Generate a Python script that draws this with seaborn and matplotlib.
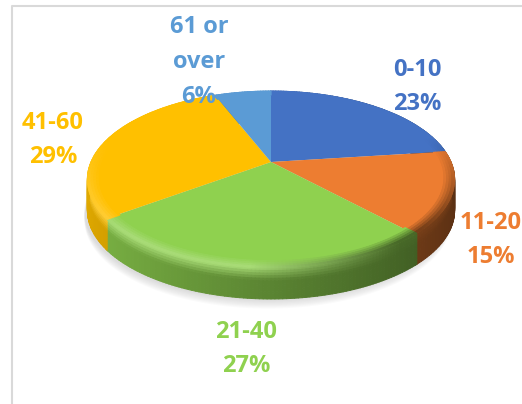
import numpy as np
import matplotlib
matplotlib.use("Agg")
import matplotlib.pyplot as plt
import matplotlib.transforms as mtransforms
from matplotlib.collections import PolyCollection
from matplotlib.path import Path
import seaborn as sns

# chart data
age_groups = ["0-10", "11-20", "21-40", "41-60", "61 or\nover"]
shares = [23, 15, 27, 29, 6]
slice_colors = ["#4472C4", "#ED7D31", "#8FD14F", "#FFC000", "#5B9BD5"]
label_x = [417, 491, 246, 53, 199]
label_y = [87, 240, 349, 140, 62]

# pie geometry in pixels
CX, CY = 271, 162
RX, RY = 180, 85
TILT = 0.198
DEPTH = 31


class Tilted(mtransforms.Transform):
    # tips the flat unit pie back, the near side comes out bigger
    input_dims = 2
    output_dims = 2

    def transform_non_affine(self, values):
        values = np.asarray(values, dtype=float)
        d = 1 + TILT * values[:, 1]
        return np.column_stack((CX + RX * values[:, 0] / d, CY - RY * values[:, 1] / d))

    def transform_path_non_affine(self, path):
        big = path.transformed(mtransforms.Affine2D().scale(1000))
        poly = big.to_polygons(closed_only=False)[0] / 1000
        return Path(self.transform_non_affine(poly))


def edge(theta, r=1.0, drop=0.0):
    pts = np.column_stack((r * np.cos(theta), r * np.sin(theta)))
    xy = Tilted().transform_non_affine(pts)
    xy[:, 1] += drop
    return xy


def mix(color, other, amount):
    return tuple(np.array(color) * (1 - amount) + np.array(other) * amount)


def rim_tone(color, u):
    # light comes from the left, right hand side of the rim goes dark
    lit = mix(color, (1, 1, 1), 0.22)
    dark = mix(color, (0, 0, 0), 0.5)
    return mix(lit, dark, np.clip((u + 0.1) / 0.7, 0, 1))


sns.set_theme(style="white")
plt.rcParams["font.family"] = ["Open Sans", "DejaVu Sans"]
palette = sns.color_palette(slice_colors)

fig = plt.figure(figsize=(5.22, 4.04), dpi=100)
ax = fig.add_axes([0, 0, 1, 1])

wedges, _ = ax.pie(shares, colors=palette, startangle=90, counterclock=False)
tilted = Tilted()
for w in wedges:
    w.set_transform(tilted + ax.transData)
    w.set_linewidth(0)
    w.set_clip_on(False)
    w.set_zorder(3)

ax.set_aspect("auto")
ax.set_xlim(0, 522)
ax.set_ylim(404, 0)
ax.axis("off")

# soft shadow under the pie
circle = np.linspace(0, 2 * np.pi, 200)
for grow in range(8, 0, -1):
    ring = edge(circle, 1.0, DEPTH + grow * 1.2)
    ring[:, 0] -= 3
    ax.fill(ring[:, 0], ring[:, 1], color="#808080", alpha=0.035, lw=0, zorder=1)

# side wall, one thin quad per degree and layer
side_quads, side_colors = [], []
layers = np.linspace(0, 1, 13)
for w, color in zip(wedges, palette):
    angles = np.radians(np.arange(w.theta1, w.theta2 + 1, 1.0))
    if len(angles) < 2:
        continue
    for t0, t1 in zip(layers[:-1], layers[1:]):
        top = edge(angles, 1.0, DEPTH * t0)
        low = edge(angles, 1.0, DEPTH * t1)
        for i in range(len(angles) - 1):
            u = np.cos(angles[i])
            shade = 0.63 - 0.25 * u
            # rounded top of the wall catches the light
            glow = np.clip(1 - (t0 + t1) / 0.8, 0, 1)
            c = mix(mix(color, (0, 0, 0), 1 - shade), rim_tone(color, u), glow)
            side_quads.append([top[i], top[i + 1], low[i + 1], low[i]])
            side_colors.append(c)
ax.add_collection(PolyCollection(side_quads, facecolors=side_colors, edgecolors=side_colors,
                                 linewidths=0.7, zorder=2))

# bevel round the front edge of the top face
bevel_quads, bevel_colors = [], []
rings = np.linspace(0.93, 1.0, 6)
for w, color in zip(wedges, palette):
    angles = np.radians(np.arange(w.theta1, w.theta2 + 1, 1.0))
    for r0, r1 in zip(rings[:-1], rings[1:]):
        inner = edge(angles, r0)
        outer = edge(angles, r1)
        ramp = (r0 - 0.93) / 0.056
        for i in range(len(angles) - 1):
            u, v = np.cos(angles[i]), np.sin(angles[i])
            front = np.clip(0.3 - v, 0, 1)
            c = mix(color, rim_tone(color, u), min(ramp * front, 1))
            bevel_quads.append([inner[i], inner[i + 1], outer[i + 1], outer[i]])
            bevel_colors.append(c)
ax.add_collection(PolyCollection(bevel_quads, facecolors=bevel_colors, edgecolors=bevel_colors,
                                 linewidths=0.7, zorder=4))

# labels
for name, share, x, y, color in zip(age_groups, shares, label_x, label_y, palette):
    ax.text(x, y, f"{name}\n{share}%", color=color, fontsize=17, fontweight="bold",
            ha="center", va="center", linespacing=1.6, zorder=5)

# chart frame, only left and top show
ax.plot([11.5, 11.5, 522], [404, 5.5, 5.5], color="#d9d9d9", lw=1.5, zorder=0)

fig.savefig("out.png", dpi=100)
